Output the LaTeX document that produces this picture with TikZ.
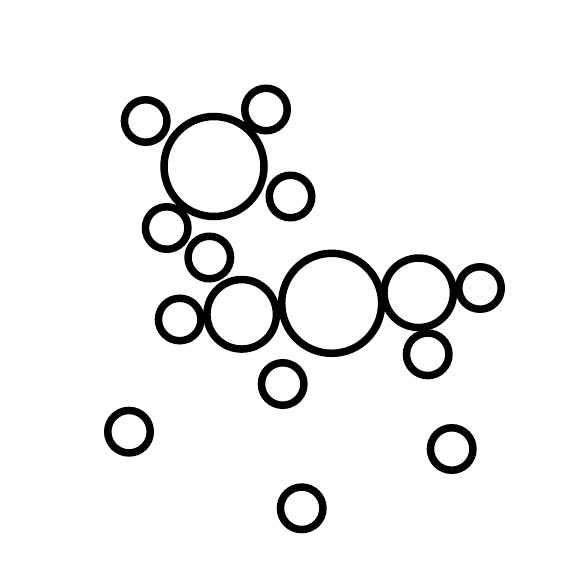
\documentclass[tikz,border=0pt]{standalone}
\begin{document}
\begin{tikzpicture}[x=1pt,y=-1pt,
  ring/.style={circle,draw=black,line width=7.5pt,inner sep=0pt,fill=none},
  sm/.style={ring,minimum size=42.5pt},
  md/.style={ring,minimum size=69.5pt},
  lg/.style={ring,minimum size=100pt}]
\useasboundingbox (0,0) rectangle (577,577);
\node[lg] (b1) at (214,166.5) {};
\node[sm] (s1) at (145.7,121) {};
\node[sm] (s2) at (266,109.5) {};
\node[sm] (s3) at (290.5,196.5) {};
\node[sm] (s4) at (166.7,228) {};
\node[sm] (s5) at (209.3,257.5) {};
\node[sm] (s6) at (179.7,319.5) {};
\node[md] (m1) at (241.7,314.3) {};
\node[lg] (b2) at (331.7,303.3) {};
\node[md] (m2) at (418.7,292.8) {};
\node[sm] (s7) at (480,288) {};
\node[sm] (s8) at (427.7,354.3) {};
\node[sm] (s9) at (282.7,384) {};
\node[sm] (s10) at (129,431.7) {};
\node[sm] (s11) at (451.7,449) {};
\node[sm] (s12) at (301.7,508.3) {};
\end{tikzpicture}
\end{document}
